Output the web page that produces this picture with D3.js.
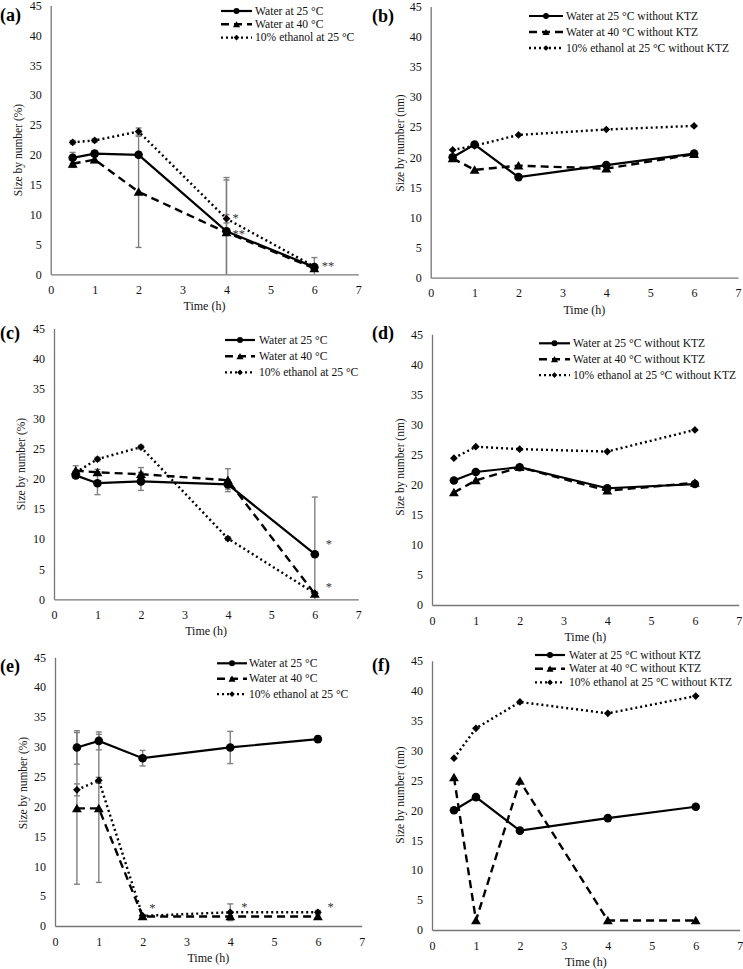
<!DOCTYPE html>
<html>
<head>
<meta charset="utf-8">
<script src="https://cdn.jsdelivr.net/npm/d3@7"></script>
<style>
  body { margin: 0; background: #fff; }
  svg text { font-family: "Liberation Serif", "DejaVu Serif", "Noto Serif", "Times New Roman", serif; }
</style>
</head>
<body>
<script>
// six panels, size by number vs time, Excel style

const serif = "'Liberation Serif', 'DejaVu Serif', 'Noto Serif', 'Times New Roman', serif";

const times = [0.5, 1, 2, 4, 6];
const xTicks = [0, 1, 2, 3, 4, 5, 6, 7];
const yTicks = [0, 5, 10, 15, 20, 25, 30, 35, 40, 45];

const labelsKTZ = ["Water at 25 °C", "Water at 40 °C", "10% ethanol at 25 °C"];
const labelsNoKTZ = ["Water at 25 °C without KTZ", "Water at 40 °C without KTZ", "10% ethanol at 25 °C without KTZ"];

// (a)
const aWater25 = [19.5, 20.2, 20.0, 7.2, 1.2];
const aWater40 = [18.5, 19.2, 13.8, 7.0, 1.0];
const aEthanol = [22.1, 22.4, 23.9, 9.3, 1.3];
const aWater25Err = [0.9, 0.4, 0.4, 9.0, 1.6];
const aWater40Err = [0.6, 0.5, 9.3, 8.8, 0.3];
const aEthanolErr = [0.3, 0.3, 0.6, 0.7, 0.3];

// (b)
const bWater25 = [20.0, 22.1, 16.7, 18.7, 20.6];
const bWater40 = [19.8, 17.9, 18.6, 18.1, 20.5];
const bEthanol = [21.2, 21.9, 23.7, 24.6, 25.2];

// (c)
const cWater25 = [20.6, 19.3, 19.6, 19.1, 7.5];
const cWater40 = [21.4, 21.1, 20.8, 19.8, 0.9];
const cEthanol = [21.1, 23.3, 25.3, 10.1, 1.0];
const cWater25Err = [0.5, 1.9, 1.5, 0.8, 9.5];
const cWater40Err = [0.8, 0.5, 1.1, 1.9, 0.3];
const cEthanolErr = [0.3, 0.3, 0.3, 0.3, 0.3];

// (d)
const dWater25 = [20.7, 22.1, 22.9, 19.4, 20.1];
const dWater40 = [18.7, 20.7, 22.9, 19.0, 20.3];
const dEthanol = [24.4, 26.3, 25.9, 25.5, 29.1];

// (e)
const eWater25 = [29.9, 31.0, 28.1, 29.9, 31.3];
const eWater40 = [19.7, 19.7, 1.6, 1.6, 1.6];
const eEthanol = [22.8, 24.4, 1.7, 2.3, 2.3];
const eWater25Err = [2.8, 1.5, 1.3, 2.7, 0.5];
const eWater40Err = [12.7, 12.4, 0.2, 0.5, 0.3];
const eEthanolErr = [1.0, 0.5, 0.2, 1.4, 0.3];

// (f)
const fWater25 = [20.0, 22.2, 16.6, 18.7, 20.6];
const fWater40 = [25.5, 1.6, 24.9, 1.6, 1.6];
const fEthanol = [28.7, 33.7, 38.1, 36.2, 39.1];

// significance marks: [x, y, text]
const aStars = [[4.14, 9.4, "*"], [4.14, 6.7, "**"], [6.17, 1.4, "**"]];
const cStars = [[6.25, 9.2, "*"], [6.25, 2.1, "*"]];
const eStars = [[2.15, 3.0, "*"], [4.25, 3.2, "*"], [6.22, 3.2, "*"]];

const panelData = {
  a: { series: [aWater25, aWater40, aEthanol], errs: [aWater25Err, aWater40Err, aEthanolErr], labels: labelsKTZ, stars: aStars, unit: "(%)" },
  b: { series: [bWater25, bWater40, bEthanol], errs: null, labels: labelsNoKTZ, stars: [], unit: "(nm)" },
  c: { series: [cWater25, cWater40, cEthanol], errs: [cWater25Err, cWater40Err, cEthanolErr], labels: labelsKTZ, stars: cStars, unit: "(%)" },
  d: { series: [dWater25, dWater40, dEthanol], errs: null, labels: labelsNoKTZ, stars: [], unit: "(nm)" },
  e: { series: [eWater25, eWater40, eEthanol], errs: [eWater25Err, eWater40Err, eEthanolErr], labels: labelsKTZ, stars: eStars, unit: "(%)" },
  f: { series: [fWater25, fWater40, fEthanol], errs: null, labels: labelsNoKTZ, stars: [], unit: "(nm)" }
};

// layout of each panel (pixels)
const layout = {
  a: { x0: 50.7, x7: 358.3, y0: 274.3, y45: 5.5, tag: [0, 21], ytx: 18, yty: 150, leg: [221, 252, 255, 11, 13.3] },
  b: { x0: 430.7, x7: 738, y0: 277.7, y45: 6.6, tag: [372, 22], ytx: 400, yty: 143, leg: [529, 563, 566, 16, 16] },
  c: { x0: 54, x7: 358.3, y0: 599.3, y45: 328.6, tag: [0, 339], ytx: 21, yty: 464, leg: [225, 255, 259, 340, 16.2] },
  d: { x0: 432, x7: 738.7, y0: 605, y45: 334.2, tag: [372, 339], ytx: 400, yty: 467, leg: [539, 570, 573, 343.3, 15.9] },
  e: { x0: 55, x7: 361.7, y0: 926, y45: 657.3, tag: [0, 672], ytx: 23, yty: 783, leg: [217, 247, 249, 663.3, 15.4] },
  f: { x0: 432, x7: 739.7, y0: 930, y45: 660.7, tag: [372, 671], ytx: 400, yty: 795, leg: [535, 565, 569, 655, 13.7] }
};

const styles = [
  { dash: null, width: 2.2, marker: "circle" },
  { dash: "8,5", width: 2.4, marker: "triangle" },
  { dash: "2,3", width: 2.4, marker: "diamond" }
];
const axisColor = "#767676";
const errColor = "#808080";

const svg = d3.select("body").append("svg")
  .attr("width", 743).attr("height", 969)
  .attr("viewBox", [0, 0, 743, 969])
  .attr("font-family", serif);

function drawMarker(g, kind, cx, cy, small) {
  if (kind === "circle") {
    g.append("circle").attr("cx", cx).attr("cy", cy).attr("r", small ? 3 : 4.3).attr("fill", "#000");
  } else if (kind === "triangle") {
    g.append("path").attr("d", d3.symbol(d3.symbolTriangle, small ? 22 : 42)())
      .attr("transform", `translate(${cx},${cy + 1})`).attr("fill", "#000");
  } else {
    g.append("path").attr("d", d3.symbol(d3.symbolSquare, small ? 16 : 30)())
      .attr("transform", `translate(${cx},${cy}) rotate(45)`).attr("fill", "#000");
  }
}

Object.keys(panelData).forEach(function(key) {
  const p = panelData[key];
  const L = layout[key];
  const g = svg.append("g");

  const x = d3.scaleLinear().domain([0, 7]).range([L.x0, L.x7]);
  const y = d3.scaleLinear().domain([0, 45]).range([L.y0, L.y45]);

  // axes
  const yAxis = g.append("g").attr("transform", `translate(${L.x0},0)`)
    .call(d3.axisLeft(y).tickValues(yTicks).tickFormat(d3.format("d")).tickSize(0).tickPadding(9));
  const xAxis = g.append("g").attr("transform", `translate(0,${L.y0})`)
    .call(d3.axisBottom(x).tickValues(xTicks).tickFormat(d3.format("d")).tickSize(0).tickPadding(11));
  [xAxis, yAxis].forEach(function(ax) {
    ax.attr("font-family", serif);
    ax.select(".domain").attr("stroke", axisColor).attr("stroke-width", 1.3);
    ax.selectAll("text").attr("font-family", serif).attr("font-size", 12).attr("fill", "#111");
  });

  g.append("text")
    .attr("x", (L.x0 + L.x7) / 2).attr("y", L.y0 + 36)
    .attr("text-anchor", "middle").attr("font-size", 12).attr("fill", "#111")
    .text("Time (h)");

  g.append("text")
    .attr("transform", `translate(${L.ytx},${L.yty}) rotate(-90)`)
    .attr("text-anchor", "middle").attr("dominant-baseline", "central")
    .attr("font-size", 11.5).attr("fill", "#111")
    .text("Size by number " + p.unit);

  g.append("text")
    .attr("x", L.tag[0]).attr("y", L.tag[1])
    .attr("font-size", 18).attr("font-weight", "bold")
    .text("(" + key + ")");

  // error bars
  if (p.errs) {
    p.errs.forEach(function(errs, si) {
      errs.forEach(function(e, i) {
        const v = p.series[si][i];
        const lo = Math.max(0, v - e), hi = v + e;
        const cx = x(times[i]);
        g.append("line").attr("x1", cx).attr("x2", cx).attr("y1", y(lo)).attr("y2", y(hi))
          .attr("stroke", errColor).attr("stroke-width", 1.4);
        [hi, lo].forEach(function(end) {
          if (end <= 0) return;
          g.append("line").attr("x1", cx - 3).attr("x2", cx + 3).attr("y1", y(end)).attr("y2", y(end))
            .attr("stroke", errColor).attr("stroke-width", 1.4);
        });
      });
    });
  }

  // lines and markers
  const line = d3.line().x((d, i) => x(times[i])).y(d => y(d));
  p.series.forEach(function(vals, si) {
    const s = styles[si];
    g.append("path").datum(vals)
      .attr("d", line)
      .attr("fill", "none").attr("stroke", "#000")
      .attr("stroke-width", s.width)
      .attr("stroke-dasharray", s.dash);
    vals.forEach(function(v, i) { drawMarker(g, s.marker, x(times[i]), y(v), false); });
  });

  // significance stars
  p.stars.forEach(function(st) {
    g.append("text").attr("x", x(st[0])).attr("y", y(st[1]))
      .attr("dominant-baseline", "central").attr("font-size", 12.5).attr("fill", "#333")
      .text(st[2]);
  });

  // legend
  const [lx1, lx2, tx, ly0, ldy] = L.leg;
  p.labels.forEach(function(lab, i) {
    const s = styles[i];
    const ly = ly0 + i * ldy;
    g.append("line").attr("x1", lx1).attr("x2", lx2).attr("y1", ly).attr("y2", ly)
      .attr("stroke", "#000").attr("stroke-width", s.width).attr("stroke-dasharray", s.dash);
    drawMarker(g, s.marker, (lx1 + lx2) / 2, ly, true);
    g.append("text").attr("x", tx).attr("y", ly).attr("dominant-baseline", "central")
      .attr("font-size", 11.6).attr("fill", "#111").text(lab);
  });
});
</script>
</body>
</html>
